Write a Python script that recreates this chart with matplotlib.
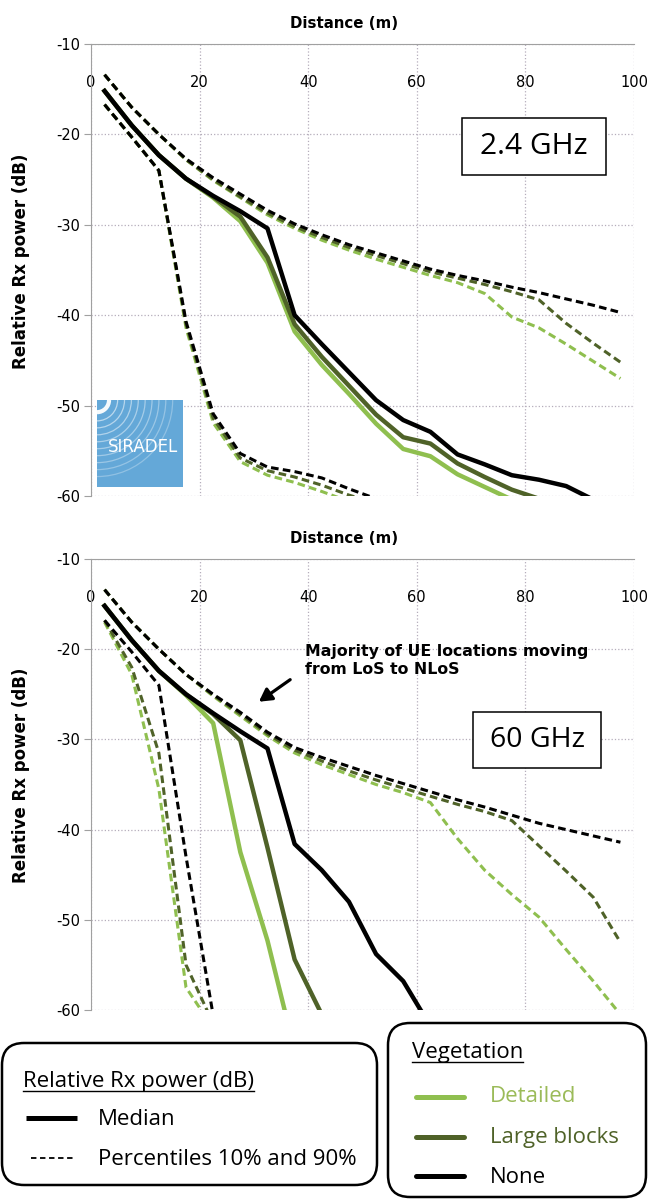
import matplotlib
matplotlib.use("Agg")
import matplotlib.pyplot as plt
from matplotlib.patches import FancyBboxPatch, Arc, Rectangle

plt.rcParams['axes.unicode_minus'] = False

# Distance samples (m)
distance = [2.5, 7.5, 12.5, 17.5, 22.5, 27.5, 32.5, 37.5, 42.5, 47.5,
            52.5, 57.5, 62.5, 67.5, 72.5, 77.5, 82.5, 87.5, 92.5, 97.5]

# 2.4 GHz - median
med_none_24 = [-15.2, -19.0, -22.3, -24.9, -26.8, -28.5, -30.4, -40.0, -43.2, -46.3,
               -49.4, -51.6, -52.9, -55.4, -56.5, -57.7, -58.2, -58.9, -60.4]
med_large_24 = [-15.2, -19.0, -22.3, -24.9, -26.9, -29.1, -33.6, -41.0, -44.6, -47.8,
                -51.0, -53.5, -54.2, -56.4, -57.9, -59.3, -60.3]
med_det_24 = [-15.2, -19.0, -22.3, -24.9, -27.0, -29.6, -34.2, -41.8, -45.5, -48.7,
              -52.0, -54.8, -55.6, -57.6, -59.0, -60.4]
# 2.4 GHz - 90th percentile
p90_none_24 = [-13.4, -17.0, -20.0, -22.7, -24.8, -26.6, -28.4, -29.9, -31.1, -32.2,
               -33.1, -34.0, -34.9, -35.6, -36.2, -36.9, -37.5, -38.2, -38.9, -39.7]
p90_large_24 = [-13.4, -17.0, -20.0, -22.8, -25.0, -26.9, -28.7, -30.2, -31.4, -32.5,
                -33.4, -34.3, -35.2, -35.9, -36.6, -37.4, -38.3, -40.9, -43.1, -45.2]
p90_det_24 = [-13.4, -17.0, -20.0, -22.8, -25.1, -27.0, -28.9, -30.4, -31.7, -32.8,
              -33.8, -34.7, -35.6, -36.4, -37.6, -40.2, -41.4, -43.2, -45.1, -47.0]
# 2.4 GHz - 10th percentile
p10_none_24 = [-16.7, -20.3, -24.0, -40.7, -50.9, -55.3, -56.8, -57.3, -58.0, -59.2, -60.3]
p10_large_24 = [-16.7, -20.3, -24.0, -41.0, -51.4, -55.8, -57.2, -57.9, -58.8, -59.9, -60.8]
p10_det_24 = [-16.7, -20.3, -24.0, -41.4, -51.9, -56.2, -57.7, -58.5, -59.5, -60.6]

# 60 GHz - median
med_none_60 = [-15.2, -19.0, -22.4, -25.0, -27.1, -29.1, -31.0, -41.6, -44.5, -48.0,
               -53.8, -56.8, -61.8]
med_large_60 = [-15.2, -19.0, -22.4, -25.0, -27.2, -30.1, -42.0, -54.4, -60.5]
med_det_60 = [-15.2, -19.0, -22.4, -25.1, -28.2, -42.5, -52.3, -64.5]
# 60 GHz - 90th percentile
p90_none_60 = [-13.4, -17.0, -20.0, -22.8, -25.0, -27.0, -29.2, -30.9, -32.0, -33.0,
               -34.0, -34.9, -35.8, -36.7, -37.5, -38.4, -39.3, -40.0, -40.7, -41.4]
p90_large_60 = [-13.4, -17.0, -20.0, -22.8, -25.1, -27.2, -29.4, -31.2, -32.4, -33.5,
                -34.5, -35.4, -36.3, -37.2, -38.0, -39.0, -41.8, -44.6, -47.5, -52.5]
p90_det_60 = [-13.4, -17.0, -20.0, -22.8, -25.2, -27.4, -29.6, -31.5, -32.8, -33.9,
              -35.0, -35.9, -37.0, -41.0, -44.5, -47.2, -49.7, -53.3, -56.8, -60.5]
# 60 GHz - 10th percentile
p10_none_60 = [-16.8, -20.3, -24.0, -43.0, -60.6]
p10_large_60 = [-16.8, -22.0, -31.5, -55.0, -61.5]
p10_det_60 = [-17.0, -22.8, -35.5, -57.5, -62.0]

x_ticks = [0, 20, 40, 60, 80, 100]
y_ticks = [-10, -20, -30, -40, -50, -60]

LIGHT = '#8FBF4F'
DARK = '#4F6228'
BLACK = '#000000'
GRID = '#B5ADBB'
BOLD_FONT = 'DejaVu Sans'
TEXT_FONT = 'Open Sans'

fig = plt.figure(figsize=(6.5, 11.99), dpi=100)

ax_top = fig.add_axes([91 / 650, 1 - 496 / 1199, 543 / 650, 452 / 1199])
ax_bot = fig.add_axes([91 / 650, 1 - 1010 / 1199, 543 / 650, 451 / 1199])


def draw_panel(ax, series):
    # dashed percentiles first, then medians on top
    for color, med, p90, p10 in series:
        for s in (p90, p10):
            ax.plot(distance[:len(s)], s, color=color, lw=2.2, dashes=(2.5, 1.4))
    for color, med, p90, p10 in series:
        ax.plot(distance[:len(med)], med, color=color, lw=3.2)

    ax.set_xlim(0, 100)
    ax.set_ylim(-60, -10)
    ax.set_xticks(x_ticks)
    ax.set_yticks(y_ticks)
    ax.xaxis.tick_top()
    ax.tick_params(axis='x', length=0, pad=-33, labelsize=10.5)
    ax.tick_params(axis='y', length=5, color='#A0A0A0', width=0.8, labelsize=10.5, pad=3)
    ax.grid(True, color=GRID, linestyle=':', linewidth=0.9)
    ax.set_axisbelow(True)
    for side in ('right', 'bottom'):
        ax.spines[side].set_visible(False)
    for side in ('left', 'top'):
        ax.spines[side].set_color('#A0A0A0')
        ax.spines[side].set_linewidth(0.8)
    ax.xaxis.set_label_position('top')
    ax.set_xlabel('Distance (m)', family=BOLD_FONT, fontweight='bold', fontsize=10.8)
    ax.xaxis.set_label_coords(0.466, 1.035)
    ax.set_ylabel('Relative Rx power (dB)', family=BOLD_FONT, fontweight='bold', fontsize=12)
    ax.yaxis.set_label_coords(-0.112, 0.52)


draw_panel(ax_top, [(LIGHT, med_det_24, p90_det_24, p10_det_24),
                    (DARK, med_large_24, p90_large_24, p10_large_24),
                    (BLACK, med_none_24, p90_none_24, p10_none_24)])
draw_panel(ax_bot, [(LIGHT, med_det_60, p90_det_60, p10_det_60),
                    (DARK, med_large_60, p90_large_60, p10_large_60),
                    (BLACK, med_none_60, p90_none_60, p10_none_60)])

# frequency boxes
ax_top.add_patch(Rectangle((0.683, 0.711), 0.265, 0.126, transform=ax_top.transAxes,
                           fc='white', ec='black', lw=1.1, zorder=5))
ax_top.text(0.8155, 0.774, '2.4 GHz', transform=ax_top.transAxes, ha='center', va='center',
            fontsize=21.5, family=TEXT_FONT, zorder=6)
ax_bot.add_patch(Rectangle((0.703, 0.536), 0.237, 0.124, transform=ax_bot.transAxes,
                           fc='white', ec='black', lw=1.1, zorder=5))
ax_bot.text(0.8215, 0.598, '60 GHz', transform=ax_bot.transAxes, ha='center', va='center',
            fontsize=20.5, family=TEXT_FONT, zorder=6)

ax_bot.annotate('', xy=(30.5, -26.0), xytext=(37.1, -23.2),
                arrowprops=dict(arrowstyle='-|>,head_length=0.75,head_width=0.42',
                                color='black', lw=2.3))
ax_bot.text(39.5, -21.3, 'Majority of UE locations moving\nfrom LoS to NLoS', ha='left',
            va='center', fontsize=11.3, family=BOLD_FONT, fontweight='bold', linespacing=1.25)

# SIRADEL logo
lax = fig.add_axes([97 / 650, 1 - 487 / 1199, 86 / 650, 87 / 1199])
lax.set_facecolor('#64A8D8')
lax.set_xlim(0, 1)
lax.set_ylim(0, 1)
lax.set_xticks([])
lax.set_yticks([])
for sp in lax.spines.values():
    sp.set_visible(False)
for i, r in enumerate([0.14, 0.24, 0.32, 0.40, 0.48, 0.56, 0.64, 0.72, 0.80, 0.88]):
    lax.add_patch(Arc((0.0, 1.0), 2 * r, 2 * r, theta1=270, theta2=360, color='white',
                      lw=3.0 if i == 0 else 0.9, alpha=0.95 if i == 0 else 0.6 - 0.035 * i))
lax.text(0.53, 0.46, 'SIRADEL', color='white', fontsize=12, ha='center', va='center',
         family='DejaVu Sans')

# legends (pixel coordinates overlay)
ov = fig.add_axes([0, 0, 1, 1])
ov.set_xlim(0, 650)
ov.set_ylim(1199, 0)
ov.axis('off')
ov.patch.set_alpha(0)

ov.add_patch(FancyBboxPatch((2, 1043), 375, 142, boxstyle='round,pad=0,rounding_size=22',
                            fc='white', ec='black', lw=1.8))
ov.add_patch(FancyBboxPatch((388, 1023), 258, 174, boxstyle='round,pad=0,rounding_size=22',
                            fc='white', ec='black', lw=1.8))

legend_fs = 16
t1 = ov.text(23, 1087, 'Relative Rx power (dB)', fontsize=legend_fs, family=TEXT_FONT,
             va='baseline')
ov.plot([26, 77], [1118, 1118], color=BLACK, lw=3.6, solid_capstyle='butt')
ov.text(98, 1125, 'Median', fontsize=legend_fs, family=TEXT_FONT, va='baseline')
ov.plot([31, 75], [1158, 1158], color=BLACK, lw=1.3, dashes=(3, 2))
ov.text(98, 1165, 'Percentiles 10% and 90%', fontsize=legend_fs, family=TEXT_FONT,
        va='baseline')

t2 = ov.text(412, 1058, 'Vegetation', fontsize=legend_fs, family=TEXT_FONT, va='baseline')
veg = [('Detailed', '#9BBB59', LIGHT, 1097, 1102),
       ('Large blocks', DARK, DARK, 1137, 1143),
       ('None', BLACK, BLACK, 1176, 1183)]
for name, tcol, lcol, ly, ty in veg:
    ov.plot([416, 464], [ly, ly], color=lcol, lw=3.6, solid_capstyle='round')
    ov.text(490, ty, name, fontsize=legend_fs, family=TEXT_FONT, va='baseline', color=tcol)

# underline the two legend titles
fig.canvas.draw()
inv = ov.transData.inverted()
for t, base in ((t1, 1087), (t2, 1058)):
    bb = t.get_window_extent()
    x0 = inv.transform((bb.x0, bb.y0))[0]
    x1 = inv.transform((bb.x1, bb.y0))[0]
    ov.plot([x0, x1], [base + 4, base + 4], color=BLACK, lw=1.0)

fig.savefig('out.png', dpi=100)
